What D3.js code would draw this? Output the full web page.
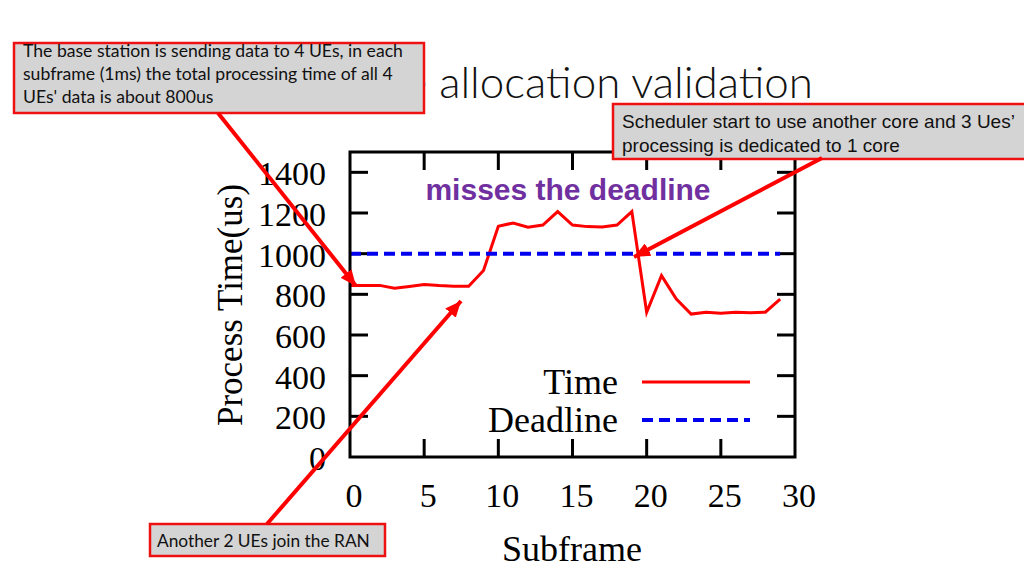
<!DOCTYPE html>
<html>
<head>
<meta charset="utf-8">
<script src="https://cdn.jsdelivr.net/npm/d3@7"></script>
<style>
  body { margin: 0; background: #fff; }
  svg { display: block; }
</style>
</head>
<body>
<div id="chart"></div>
<script>
// data
const subframes = [0, 1, 2, 3, 4, 5, 6, 7, 8, 9, 10, 11, 12, 13, 14, 15, 16, 17, 18, 19, 20, 21, 22, 23, 24, 25, 26, 27, 28, 29];
const timeValues = [843, 843, 844, 830, 839, 848, 843, 840, 840, 917, 1135, 1151, 1130, 1141, 1207, 1141, 1133, 1131, 1141, 1207, 712, 892, 777, 703, 712, 707, 712, 710, 712, 777];
const deadlineValues = [1000, 1000, 1000, 1000, 1000, 1000, 1000, 1000, 1000, 1000, 1000, 1000, 1000, 1000, 1000, 1000, 1000, 1000, 1000, 1000, 1000, 1000, 1000, 1000, 1000, 1000, 1000, 1000, 1000, 1000];
const xTicks = [0, 5, 10, 15, 20, 25, 30];
const yTicks = [0, 200, 400, 600, 800, 1000, 1200, 1400];
const legendLabels = ["Time", "Deadline"];

const titleText = "Resource allocation validation";
const titleVisible = "allocation validation";
const note1Lines = ["The base station is sending data to 4 UEs, in each",
                    "subframe (1ms) the total processing time of all 4",
                    "UEs' data is about 800us"];
const note2Lines = ["Scheduler start to use another core and 3 Ues\u2019",
                    "processing is dedicated to 1 core"];
const note3Lines = ["Another 2 UEs join the RAN"];

const size = {
    width: 1024,
    height: 576,
    plot: { left: 350, right: 795, top: 152, bottom: 457 },
    tick: 18
};

const serif = "'Liberation Serif', 'Times New Roman', serif";
const sans = "'Liberation Sans', Arial, sans-serif";
const calibri = "Lato, 'Open Sans', sans-serif";
const red = "#ff0000";

// shrink/grow a text's font size so it gets a given width
function fitWidth(sel, target) {
    const len = sel.node().getComputedTextLength();
    const fs = parseFloat(sel.attr("font-size"));
    const nfs = fs * target / len;
    sel.attr("font-size", nfs);
    return nfs;
}

const svg = d3.select("#chart").append("svg")
    .attr("width", size.width)
    .attr("height", size.height);

const defs = svg.append("defs");
defs.append("marker")
    .attr("id", "head")
    .attr("markerUnits", "userSpaceOnUse")
    .attr("viewBox", "0 0 16 14")
    .attr("refX", 16).attr("refY", 7)
    .attr("markerWidth", 16).attr("markerHeight", 14)
    .attr("orient", "auto")
    .append("path")
    .attr("d", "M0,0 L16,7 L0,14 Z")
    .attr("fill", red);

// title (left part hidden by the note box)
// size it so the visible words span the same width as in the slide
const probe = svg.append("text")
    .attr("font-family", calibri).attr("font-weight", 300)
    .attr("font-size", 40).text(titleVisible);
const titleSize = fitWidth(probe, 374);
probe.remove();
svg.append("text")
    .attr("x", 813).attr("y", 98)
    .attr("text-anchor", "end")
    .attr("font-family", calibri)
    .attr("font-weight", 300)
    .attr("font-size", titleSize)
    .attr("fill", "#111")
    .text(titleText);

const x = d3.scaleLinear().domain([0, 30]).range([size.plot.left, size.plot.right]);
const y = d3.scaleLinear().domain([0, 1500]).range([size.plot.bottom, size.plot.top]);

const plot = svg.append("g");

// ticks on all four sides, pointing in
const inner = xTicks.filter(d => d > 0 && d < 30);
plot.selectAll(".xt-b").data(inner).enter().append("line")
    .attr("x1", d => x(d)).attr("x2", d => x(d))
    .attr("y1", size.plot.bottom).attr("y2", size.plot.bottom - size.tick)
    .attr("stroke", "#000").attr("stroke-width", 3);
plot.selectAll(".xt-t").data(inner).enter().append("line")
    .attr("x1", d => x(d)).attr("x2", d => x(d))
    .attr("y1", size.plot.top).attr("y2", size.plot.top + size.tick)
    .attr("stroke", "#000").attr("stroke-width", 3);
const innerY = yTicks.filter(d => d > 0);
plot.selectAll(".yt-l").data(innerY).enter().append("line")
    .attr("x1", size.plot.left).attr("x2", size.plot.left + size.tick)
    .attr("y1", d => y(d)).attr("y2", d => y(d))
    .attr("stroke", "#000").attr("stroke-width", 3);
plot.selectAll(".yt-r").data(innerY).enter().append("line")
    .attr("x1", size.plot.right).attr("x2", size.plot.right - size.tick)
    .attr("y1", d => y(d)).attr("y2", d => y(d))
    .attr("stroke", "#000").attr("stroke-width", 3);

// tick labels
plot.selectAll(".xl").data(xTicks).enter().append("text")
    .attr("x", d => x(d) + 4)
    .attr("y", 507)
    .attr("text-anchor", "middle")
    .attr("font-family", serif)
    .attr("font-size", 34)
    .text(d => d);
plot.selectAll(".yl").data(yTicks).enter().append("text")
    .attr("x", 326)
    .attr("y", d => y(d) + 13)
    .attr("text-anchor", "end")
    .attr("font-family", serif)
    .attr("font-size", 34)
    .text(d => d);

// axis titles
svg.append("text")
    .attr("x", 572).attr("y", 561)
    .attr("text-anchor", "middle")
    .attr("font-family", serif)
    .attr("font-size", 36)
    .text("Subframe");
svg.append("text")
    .attr("transform", "translate(242,305) rotate(-90)")
    .attr("text-anchor", "middle")
    .attr("font-family", serif)
    .attr("font-size", 35)
    .text("Process Time(us)");

// series
const timeLine = d3.line().x((d, i) => x(subframes[i])).y(d => y(d));
plot.append("path")
    .datum(timeValues)
    .attr("d", timeLine)
    .attr("fill", "none")
    .attr("stroke", red)
    .attr("stroke-width", 3)
    .attr("stroke-linejoin", "miter");
plot.append("path")
    .datum(deadlineValues)
    .attr("d", timeLine)
    .attr("fill", "none")
    .attr("stroke", "#0000ee")
    .attr("stroke-width", 4)
    .attr("stroke-dasharray", "11,6");

// legend
const legend = plot.append("g");
const legendY = [382, 420];
legend.selectAll("text").data(legendLabels).enter().append("text")
    .attr("x", 618)
    .attr("y", (d, i) => legendY[i] + 12)
    .attr("text-anchor", "end")
    .attr("font-family", serif)
    .attr("font-size", 36)
    .text(d => d);
legend.append("line")
    .attr("x1", 642).attr("x2", 750)
    .attr("y1", legendY[0]).attr("y2", legendY[0])
    .attr("stroke", red).attr("stroke-width", 3);
legend.append("line")
    .attr("x1", 642).attr("x2", 750)
    .attr("y1", legendY[1]).attr("y2", legendY[1])
    .attr("stroke", "#0000ee").attr("stroke-width", 4)
    .attr("stroke-dasharray", "11,6");

// frame
plot.append("rect")
    .attr("x", size.plot.left).attr("y", size.plot.top)
    .attr("width", size.plot.right - size.plot.left)
    .attr("height", size.plot.bottom - size.plot.top)
    .attr("fill", "none")
    .attr("stroke", "#000")
    .attr("stroke-width", 3);

svg.append("text")
    .attr("x", 568).attr("y", 200)
    .attr("text-anchor", "middle")
    .attr("font-family", sans)
    .attr("font-weight", "bold")
    .attr("font-size", 30)
    .attr("fill", "#7030a0")
    .text("misses the deadline");

// note boxes
function noteBox(box, lines, font, fs, lineGap, textX, firstBase, fitTo) {
    const g = svg.append("g");
    g.append("rect")
        .attr("x", box.x).attr("y", box.y)
        .attr("width", box.w).attr("height", box.h)
        .attr("fill", "#d4d4d4")
        .attr("stroke", "#ee1111")
        .attr("stroke-width", 2.5);
    const t = g.selectAll("text").data(lines).enter().append("text")
        .attr("x", textX)
        .attr("y", (d, i) => firstBase + i * lineGap)
        .attr("font-family", font)
        .attr("font-size", fs)
        .attr("fill", "#111")
        .text(d => d);
    if (fitTo) {
        const first = d3.select(t.nodes()[0]);
        const nfs = fitWidth(first, fitTo);
        t.attr("font-size", nfs);
    }
    return g;
}

noteBox({ x: 14, y: 43, w: 410, h: 70 }, note1Lines, calibri, 16, 22.8, 23, 57, 380);
noteBox({ x: 613, y: 104, w: 430, h: 55 }, note2Lines, sans, 16, 23.5, 622, 128, 393);
noteBox({ x: 150, y: 524, w: 235, h: 32 }, note3Lines, calibri, 16, 0, 157, 547, 213);

// arrows
const arrows = [
    { from: [218, 113], to: [356, 286] },
    { from: [822, 158], to: [634, 257] },
    { from: [267, 524], to: [461, 301] }
];
svg.selectAll(".arrow").data(arrows).enter().append("line")
    .attr("x1", d => d.from[0]).attr("y1", d => d.from[1])
    .attr("x2", d => d.to[0]).attr("y2", d => d.to[1])
    .attr("stroke", red)
    .attr("stroke-width", 4)
    .attr("marker-end", "url(#head)");
</script>
</body>
</html>
